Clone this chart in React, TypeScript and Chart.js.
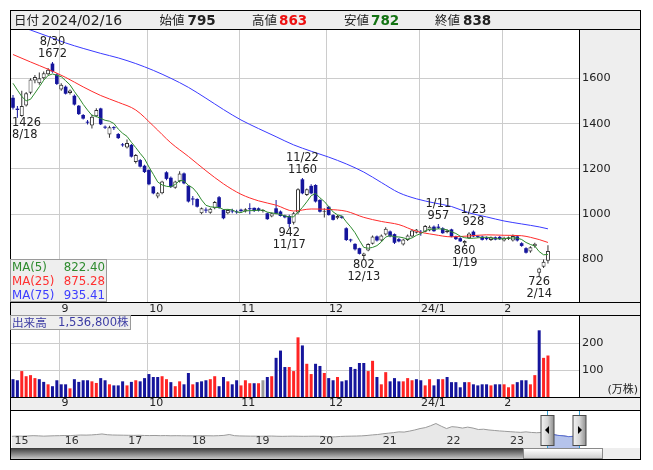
import React, { useEffect, useRef } from "react";
import { Chart, registerables } from "chart.js";

Chart.register(...registerables);

// ---------------- data ----------------
const openPrices = [
  1514, 1466, 1434, 1480, 1536, 1590, 1578, 1600, 1618, 1665,
  1617, 1550, 1563, 1535, 1523, 1479, 1438, 1408, 1392, 1432,
  1467, 1386, 1352, 1384, 1354, 1308, 1294, 1306, 1230, 1239,
  1214, 1195, 1122, 1078, 1092, 1185, 1161, 1117, 1144, 1180,
  1126, 1068, 1067, 1004, 1020, 1006, 1026, 1075, 1019, 1004,
  1016, 1012, 1020, 1012, 1026, 1028, 1026, 1014, 1004, 990,
  1026, 1012, 994, 992, 962, 1007, 1154, 1085, 1125, 1129,
  1063, 1011, 1033, 996, 982, 990, 938, 888, 869, 850,
  816, 840, 870, 902, 884, 910, 924, 912, 890, 866,
  886, 902, 918, 922, 923, 928, 945, 945, 938, 920,
  933, 901, 894, 872, 894, 923, 902, 901, 896, 886,
  898, 900, 884, 890, 884, 902, 872, 850, 835, 858,
  742, 768, 795,
];
const highPrices = [
  1526, 1478, 1545, 1540, 1600, 1615, 1626, 1630, 1645, 1672,
  1622, 1578, 1568, 1550, 1528, 1482, 1442, 1416, 1440, 1468,
  1470, 1392, 1390, 1388, 1358, 1314, 1330, 1310, 1266, 1244,
  1218, 1198, 1125, 1098, 1148, 1190, 1166, 1148, 1190, 1184,
  1128, 1080, 1070, 1030, 1030, 1028, 1058, 1080, 1022, 1022,
  1024, 1020, 1024, 1026, 1048, 1030, 1030, 1022, 1008, 1008,
  1063, 1016, 998, 998, 1010, 1115, 1160, 1114, 1132, 1132,
  1066, 1026, 1036, 1000, 996, 994, 942, 892, 872, 852,
  830, 872, 906, 906, 910, 942, 928, 915, 895, 892,
  910, 932, 935, 930, 952, 950, 950, 957, 942, 932,
  936, 905, 898, 885, 920, 928, 906, 905, 902, 902,
  902, 904, 900, 902, 910, 906, 876, 854, 858, 874,
  764, 800, 863,
];
const lowPrices = [
  1462, 1426, 1430, 1476, 1530, 1578, 1572, 1595, 1612, 1625,
  1570, 1545, 1528, 1528, 1480, 1438, 1418, 1396, 1378, 1428,
  1394, 1376, 1338, 1372, 1332, 1298, 1290, 1250, 1224, 1206,
  1182, 1128, 1088, 1070, 1088, 1150, 1116, 1112, 1140, 1132,
  1052, 1040, 1030, 1000, 1005, 1002, 1022, 1024, 978, 1000,
  1004, 1002, 1010, 1008, 1000, 1010, 1012, 1008, 975, 986,
  1000, 990, 982, 942, 955, 1000, 1088, 1080, 1088, 1052,
  1008, 985, 994, 972, 978, 980, 882, 876, 840, 822,
  802, 836, 866, 880, 880, 906, 898, 868, 876, 862,
  882, 898, 915, 905, 920, 925, 922, 935, 914, 916,
  898, 886, 878, 860, 890, 898, 895, 884, 885, 882,
  885, 886, 880, 886, 880, 880, 856, 826, 830, 852,
  726, 762, 782,
];
const closePrices = [
  1470, 1460, 1478, 1534, 1595, 1606, 1600, 1622, 1638, 1630,
  1575, 1572, 1532, 1546, 1484, 1442, 1422, 1404, 1430, 1460,
  1397, 1382, 1384, 1380, 1336, 1304, 1314, 1254, 1261, 1210,
  1186, 1132, 1092, 1092, 1144, 1156, 1120, 1144, 1180, 1136,
  1056, 1065, 1033, 1026, 1016, 1024, 1054, 1028, 982, 1019,
  1012, 1008, 1014, 1022, 1022, 1014, 1016, 1016, 978, 1004,
  1002, 992, 986, 957, 1004, 1110, 1092, 1110, 1092, 1056,
  1011, 1012, 996, 975, 992, 984, 886, 884, 845, 825,
  827, 868, 902, 884, 906, 936, 902, 874, 880, 888,
  906, 928, 932, 918, 948, 945, 925, 940, 916, 928,
  901, 890, 880, 882, 915, 902, 900, 887, 890, 898,
  888, 890, 896, 898, 904, 884, 860, 830, 854, 870,
  760, 790, 838,
];
// closes of the 4 sessions before the first candle (read from the MA(5) line start)
const priorCloses = [1610, 1620, 1629, 1561];

// volume in 万株
const volumes = [
  66, 62, 96, 77, 81, 70, 66, 56, 47, 40,
  62, 47, 47, 32, 66, 56, 62, 62, 58, 52,
  70, 62, 47, 43, 43, 58, 43, 56, 62, 58,
  70, 85, 74, 74, 77, 66, 55, 40, 58, 47,
  89, 47, 55, 58, 62, 66, 77, 40, 74, 58,
  47, 62, 43, 62, 51, 51, 51, 62, 74, 77,
  145, 172, 111, 111, 96, 221, 191, 123, 85, 123,
  115, 89, 70, 62, 74, 58, 62, 111, 104, 126,
  126, 96, 134, 74, 47, 92, 58, 70, 58, 58,
  70, 62, 66, 62, 43, 66, 43, 66, 66, 74,
  55, 55, 36, 55, 55, 47, 43, 47, 47, 43,
  47, 47, 47, 36, 47, 55, 62, 62, 47, 81,
  247, 145, 153.68,
];
// volume bar colour per session: u = up (red), d = down (blue), e = unchanged (gray)
const volDirRows = [
  "dduuuuddud", "dddudddduu", "ddudddudud", "dddduuduud", "duddduuddu",
  "dduuuduedu", "ddduuuduud", "dudduddddd", "duuduudddu", "uudduuddud",
  "dddduddddu", "dduuuddduu", "duu",
];

const ma25Points = [
  [0, 1705], [4, 1672], [8, 1640], [12, 1604], [16, 1562], [20, 1524], [24, 1494],
  [28, 1460], [32, 1390], [36, 1315], [40, 1255], [44, 1192], [48, 1134], [52, 1088],
  [56, 1059], [60, 1040], [64, 1014], [68, 1023], [72, 1021], [76, 1013], [80, 986],
  [84, 968], [88, 954], [92, 925], [96, 910], [100, 900], [104, 904], [108, 909],
  [112, 907], [116, 905], [118, 898], [120, 888], [122, 875.28],
];
const ma75Points = [
  [0, 1840], [4, 1813], [8, 1785], [12, 1756], [16, 1732], [20, 1710], [24, 1690],
  [28, 1665], [32, 1635], [36, 1600], [40, 1560], [44, 1512], [48, 1462], [52, 1416],
  [56, 1378], [60, 1342], [64, 1306], [68, 1278], [72, 1252], [76, 1222], [80, 1186],
  [84, 1140], [88, 1095], [92, 1068], [96, 1050], [100, 1034], [104, 1006], [108, 988],
  [112, 970], [116, 957], [120, 944], [122, 935.41],
];

const lastDate = "2024/02/16";
const monthLabels = ["9", "10", "11", "12", "24/1", "2"];
const monthStartIdx = [11, 31, 52, 72, 93, 112];
const priceTicks = [800, 1000, 1200, 1400, 1600];
const volTicks = [100, 200];

const highMarkIdx = [9, 66, 97, 105];
const highMarkDates = ["8/30", "11/22", "1/11", "1/23"];
const lowMarkIdx = [1, 63, 80, 103, 120];
const lowMarkDates = ["8/18", "11/17", "12/13", "1/19", "2/14"];

// navigator: monthly values, Mar 2015 .. Feb 2024 (month index from Jan 2015, mid-month)
const navStartMonth = 2.5;
const navValues = [
  1230, 1260, 1250, 1270, 1300, 1280, 1250, 1270, 1290, 1300,
  1320, 1310, 1340, 1370, 1360, 1380, 1420, 1480, 1400, 1370, 1360, 1350,
  1340, 1330, 1340, 1320, 1310, 1320, 1300, 1310, 1290, 1300, 1290, 1280,
  1280, 1290, 1300, 1290, 1280, 1300, 1330, 1420, 1300, 1270, 1260, 1250,
  1250, 1240, 1250, 1260, 1240, 1230, 1240, 1250, 1240, 1230, 1240, 1250,
  1240, 1220, 1150, 1180, 1220, 1240, 1250, 1260, 1280, 1320, 1380, 1420,
  1500, 1560, 1620, 1700, 1680, 1780, 1900, 2050, 2150, 2350, 2580, 2300,
  2050, 2250, 2200, 2100, 2200, 2100, 1950, 1980, 1900, 1850, 1800, 1760,
  1720, 1680, 1650, 1700, 1640, 1610, 1640, 1600, 1450, 1330, 1290, 1200,
  1230, 1150,
];
const navYearLabels = ["15", "16", "17", "18", "19", "20", "21", "22", "23"];
const windowStartMonth = 103.5;
const windowEndMonth = 109.5;

// ---------------- styling ----------------
const FONT = '"DejaVu Sans", "Noto Sans CJK JP", sans-serif';
const CJK = '"Noto Sans CJK JP", "DejaVu Sans", sans-serif';
const BLUE = "#15159c";
const RED = "#ff2424";

const abs = (l: number, t: number, w: number, h: number, extra: any = {}) => ({
  position: "absolute" as const,
  left: l,
  top: t,
  width: w,
  height: h,
  ...extra,
});

export default function App() {
  const priceRef = useRef<HTMLCanvasElement>(null);
  const volRef = useRef<HTMLCanvasElement>(null);
  const navRef = useRef<HTMLCanvasElement>(null);

  const N = closePrices.length;
  const allCloses = priorCloses.concat(closePrices);
  const ma5Last = allCloses.slice(-5).reduce((a, b) => a + b, 0) / 5;
  const ma25Last = ma25Points[ma25Points.length - 1][1];
  const ma75Last = ma75Points[ma75Points.length - 1][1];
  const volLastShares = Math.round(volumes[N - 1] * 10000).toLocaleString("en-US");

  useEffect(() => {
    const charts: Chart[] = [];
    const xMin = -0.456;
    const xMax = 129.08;
    const monthTicks = monthStartIdx.map((i) => i - 0.4);
    const volDir = volDirRows.join("");

    const isUp = closePrices.map((c, i) => c >= openPrices[i]);
    const wickData = closePrices.map((_, i) => ({ x: i, y: [lowPrices[i], highPrices[i]] }));
    const wickColors = isUp.map((u) => (u ? "#333333" : BLUE));
    const upBodies: any[] = [];
    const downBodies: any[] = [];
    closePrices.forEach((c, i) => {
      const d = { x: i, y: [openPrices[i], c] };
      if (isUp[i]) upBodies.push(d);
      else downBodies.push(d);
    });
    const ma5 = closePrices.map((_, i) => {
      let s = 0;
      for (let k = 0; k < 5; k++) s += allCloses[i + k];
      return { x: i, y: s / 5 };
    });

    const xAxis = () => ({
      type: "linear",
      min: xMin,
      max: xMax,
      offset: false,
      grid: { color: "#cccccc", drawTicks: false, offset: false, lineWidth: 1 },
      border: { display: false },
      ticks: { display: false },
      afterBuildTicks: (s: any) => {
        s.ticks = monthTicks.map((v) => ({ value: v }));
      },
      afterFit: (s: any) => {
        s.height = 13;
        s.paddingLeft = 0;
        s.paddingRight = 0;
      },
    });
    const yAxis = (min: number, max: number, ticks: number[]) => ({
      type: "linear",
      position: "right",
      min,
      max,
      grid: { color: "#cccccc", drawTicks: false },
      border: { display: false },
      ticks: {
        color: "#222222",
        font: { family: FONT, size: 11.3 },
        padding: 3,
        callback: (v: any) => String(v),
      },
      afterBuildTicks: (s: any) => {
        s.ticks = ticks.map((v) => ({ value: v }));
      },
      afterFit: (s: any) => {
        s.width = 61;
        s.paddingTop = 0;
        s.paddingBottom = 0;
      },
    });
    const barCommon = {
      grouped: false,
      categoryPercentage: 1,
      barPercentage: 1,
      inflateAmount: 0,
      borderSkipped: false,
    };

    const monthLabelPlugin = (dy: number) => ({
      id: "monthLabels",
      afterDraw(chart: any) {
        const { ctx, chartArea, scales } = chart;
        ctx.save();
        ctx.fillStyle = "#222222";
        ctx.textBaseline = "middle";
        ctx.textAlign = "left";
        ctx.font = `11px ${FONT}`;
        monthStartIdx.forEach((i, k) => {
          ctx.fillText(monthLabels[k], scales.x.getPixelForValue(i - 0.4) + 2, chartArea.bottom + dy);
        });
        ctx.restore();
      },
    });

    const pricePlugin = {
      id: "priceMarks",
      afterDatasetsDraw(chart: any) {
        const { ctx, chartArea, scales } = chart;
        const xs = scales.x;
        const ys = scales.y;
        ctx.save();
        ctx.fillStyle = "#222222";
        ctx.textBaseline = "middle";
        ctx.textAlign = "left";
        ctx.font = `11.4px ${FONT}`;
        const put = (t: string, cx: number, cy: number) => {
          const w = ctx.measureText(t).width;
          let l = cx - w / 2;
          l = Math.max(chartArea.left + 1, Math.min(l, chartArea.right - 1 - w));
          ctx.fillText(t, l, cy);
        };
        highMarkIdx.forEach((i, k) => {
          const px = xs.getPixelForValue(i);
          const py = ys.getPixelForValue(highPrices[i]);
          put(String(highPrices[i]), px, py - 8);
          put(highMarkDates[k], px, py - 20);
        });
        lowMarkIdx.forEach((i, k) => {
          const px = xs.getPixelForValue(i);
          const py = ys.getPixelForValue(lowPrices[i]);
          put(String(lowPrices[i]), px, py + 5.5);
          put(lowMarkDates[k], px, py + 17.5);
        });
        ctx.restore();
      },
    };

    if (priceRef.current) {
      charts.push(
        new Chart(priceRef.current, {
          type: "bar",
          data: {
            datasets: [
              {
                type: "line",
                data: ma5,
                borderColor: "#2e8b2e",
                borderWidth: 1,
                pointRadius: 0,
                order: 1,
              } as any,
              {
                type: "line",
                data: ma25Points.map(([x, y]) => ({ x, y })),
                borderColor: "#ff2b2b",
                borderWidth: 1,
                pointRadius: 0,
                cubicInterpolationMode: "monotone",
                order: 1,
              } as any,
              {
                type: "line",
                data: ma75Points.map(([x, y]) => ({ x, y })),
                borderColor: "#3a3aff",
                borderWidth: 1,
                pointRadius: 0,
                cubicInterpolationMode: "monotone",
                order: 1,
              } as any,
              {
                type: "bar",
                data: upBodies,
                backgroundColor: "#ffffff",
                borderColor: "#333333",
                borderWidth: 1,
                maxBarThickness: 4,
                minBarLength: 1,
                order: 2,
                ...barCommon,
              } as any,
              {
                type: "bar",
                data: downBodies,
                backgroundColor: BLUE,
                borderWidth: 0,
                maxBarThickness: 3.6,
                minBarLength: 1,
                order: 2,
                ...barCommon,
              } as any,
              {
                type: "bar",
                data: wickData,
                backgroundColor: wickColors,
                borderWidth: 0,
                maxBarThickness: 1,
                minBarLength: 1,
                order: 3,
                ...barCommon,
              } as any,
            ],
          },
          options: {
            animation: false,
            responsive: false,
            devicePixelRatio: 1,
            events: [],
            layout: { padding: 0 },
            plugins: { legend: { display: false }, tooltip: { enabled: false } },
            scales: {
              x: xAxis() as any,
              y: yAxis(612.4, 1813.2, priceTicks) as any,
            },
          },
          plugins: [pricePlugin, monthLabelPlugin(7)],
        })
      );
    }

    if (volRef.current) {
      const volColors = volumes.map((_, i) =>
        volDir[i] === "u" ? RED : volDir[i] === "d" ? BLUE : "#9a9a9a"
      );
      const unitPlugin = {
        id: "volUnit",
        afterDraw(chart: any) {
          const { ctx, chartArea } = chart;
          ctx.save();
          ctx.fillStyle = "#222222";
          ctx.textBaseline = "middle";
          ctx.textAlign = "right";
          ctx.font = `11px ${FONT}`;
          ctx.fillText("(万株)", chartArea.right + 59, chartArea.bottom - 6.5);
          ctx.restore();
        },
      };
      charts.push(
        new Chart(volRef.current, {
          type: "bar",
          data: {
            datasets: [
              {
                data: volumes.map((v, i) => ({ x: i, y: v })),
                backgroundColor: volColors,
                borderWidth: 0,
                maxBarThickness: 3,
                ...barCommon,
              } as any,
            ],
          },
          options: {
            animation: false,
            responsive: false,
            devicePixelRatio: 1,
            events: [],
            layout: { padding: 0 },
            plugins: { legend: { display: false }, tooltip: { enabled: false } },
            scales: {
              x: xAxis() as any,
              y: yAxis(0, 300, volTicks) as any,
            },
          },
          plugins: [monthLabelPlugin(6.5), unitPlugin],
        })
      );
    }

    if (navRef.current) {
      const navPts = navValues.map((v, k) => ({ x: navStartMonth + k, y: v }));
      const selPts = navPts.filter((p) => p.x >= windowStartMonth && p.x <= windowEndMonth);
      const navPlugin = {
        id: "navDecor",
        afterDatasetsDraw(chart: any) {
          const { ctx, chartArea, scales } = chart;
          const xs = scales.x;
          ctx.save();
          ctx.fillStyle = "#333333";
          ctx.textBaseline = "middle";
          ctx.textAlign = "left";
          ctx.font = `11px ${FONT}`;
          navYearLabels.forEach((lab, k) => {
            const m = Math.max(12 * k, navStartMonth);
            ctx.fillText(lab, xs.getPixelForValue(m) + 2.5, 29.7);
          });
          const handles = [
            { m: windowStartMonth, dir: -1 },
            { m: windowEndMonth, dir: 1 },
          ];
          handles.forEach(({ m, dir }) => {
            const cx = Math.round(xs.getPixelForValue(m)) + 0.5;
            ctx.strokeStyle = "#39a3d6";
            ctx.lineWidth = 1;
            ctx.beginPath();
            ctx.moveTo(cx, chartArea.top);
            ctx.lineTo(cx, chartArea.bottom);
            ctx.stroke();
            const w = 13;
            const top = 4;
            const h = 30;
            const g = ctx.createLinearGradient(cx - w / 2, 0, cx + w / 2, 0);
            g.addColorStop(0, "#f4f4f4");
            g.addColorStop(0.5, "#d6d6d6");
            g.addColorStop(1, "#8e8e8e");
            ctx.fillStyle = g;
            ctx.fillRect(cx - w / 2, top, w, h);
            ctx.strokeStyle = "#4a4a4a";
            ctx.strokeRect(cx - w / 2, top + 0.5, w, h);
            ctx.fillStyle = "#000000";
            ctx.beginPath();
            const my = top + h / 2;
            ctx.moveTo(cx + dir * 2.5, my);
            ctx.lineTo(cx - dir * 1.5, my - 4);
            ctx.lineTo(cx - dir * 1.5, my + 4);
            ctx.closePath();
            ctx.fill();
          });
          ctx.restore();
        },
      };
      charts.push(
        new Chart(navRef.current, {
          type: "line",
          data: {
            datasets: [
              {
                data: navPts,
                borderColor: "#9a9a9a",
                borderWidth: 1,
                pointRadius: 0,
                fill: "origin",
                backgroundColor: "#e8e8e8",
                order: 2,
              } as any,
              {
                data: selPts,
                borderColor: "#5a6fd8",
                borderWidth: 1,
                pointRadius: 0,
                fill: "origin",
                backgroundColor: "rgba(120,150,240,0.45)",
                order: 1,
              } as any,
            ],
          },
          options: {
            animation: false,
            responsive: false,
            devicePixelRatio: 1,
            events: [],
            layout: { padding: 0 },
            plugins: { legend: { display: false }, tooltip: { enabled: false } },
            scales: {
              x: { type: "linear", display: false, min: 2.33, max: 121 },
              y: { type: "linear", display: false, min: 0, max: 3900 },
            },
          },
          plugins: [navPlugin],
        })
      );
    }

    return () => {
      charts.forEach((c) => c.destroy());
    };
  }, []);

  const hdr = (left: number, text: string, size: number, extra: any = {}) => (
    <span
      style={{
        position: "absolute",
        left,
        top: 11,
        lineHeight: "18px",
        fontSize: size,
        color: "#222222",
        whiteSpace: "nowrap",
        ...extra,
      }}
    >
      {text}
    </span>
  );

  const legendRow = (label: string, value: string, color: string) => (
    <div style={{ display: "flex", justifyContent: "space-between", color, height: 14 }}>
      <span>{label}</span>
      <span>{value}</span>
    </div>
  );

  return (
    <div
      style={{
        position: "absolute",
        left: 0,
        top: 0,
        width: 653,
        height: 470,
        background: "#ffffff",
        fontFamily: FONT,
        overflow: "hidden",
      }}
    >
      {/* backgrounds */}
      <div style={abs(11, 11, 629, 18, { background: "#eeeeee" })} />
      <div style={abs(580, 30, 60, 272, { background: "#eeeeee" })} />
      <div style={abs(11, 303, 629, 12, { background: "#eeeeee" })} />
      <div style={abs(580, 316, 60, 81, { background: "#eeeeee" })} />
      <div style={abs(11, 398, 629, 12, { background: "#eeeeee" })} />

      {/* charts */}
      <canvas ref={priceRef} width={629} height={285} style={abs(11, 30, 629, 285)} />
      <canvas ref={volRef} width={629} height={94} style={abs(11, 316, 629, 94)} />
      <canvas ref={navRef} width={629} height={37} style={abs(11, 411, 629, 37)} />

      {/* scrollbar */}
      <div style={abs(11, 448, 512, 11, { background: "linear-gradient(#3a3a3a, #c8c8c8)" })} />
      <div
        style={abs(523, 448, 80, 11, {
          background: "linear-gradient(#ffffff, #d0d0d0)",
          border: "1px solid #8a8a8a",
          boxSizing: "border-box",
        })}
      />
      <div style={abs(603, 448, 37, 11, { background: "#eeeeee" })} />

      {/* frame lines */}
      <div style={abs(10, 10, 631, 450, { border: "1px solid #000", boxSizing: "border-box" })} />
      <div style={abs(10, 29, 631, 1, { background: "#000" })} />
      <div style={abs(10, 302, 631, 1, { background: "#000" })} />
      <div style={abs(10, 315, 631, 1, { background: "#000" })} />
      <div style={abs(10, 397, 631, 1, { background: "#000" })} />
      <div style={abs(10, 410, 631, 1, { background: "#000" })} />
      <div style={abs(579, 29, 1, 274, { background: "#000" })} />
      <div style={abs(579, 315, 1, 83, { background: "#000" })} />

      {/* header */}
      {hdr(14, "日付", 12.5, { fontFamily: CJK })}
      {hdr(41.5, lastDate, 14)}
      {hdr(159.5, "始値", 12.5, { fontFamily: CJK })}
      {hdr(187.5, String(openPrices[N - 1]), 13.5, { fontWeight: "bold" })}
      {hdr(252, "高値", 12.5, { fontFamily: CJK })}
      {hdr(279, String(highPrices[N - 1]), 13.5, { fontWeight: "bold", color: "#ee1111" })}
      {hdr(344, "安値", 12.5, { fontFamily: CJK })}
      {hdr(371, String(lowPrices[N - 1]), 13.5, { fontWeight: "bold", color: "#137313" })}
      {hdr(435, "終値", 12.5, { fontFamily: CJK })}
      {hdr(463, String(closePrices[N - 1]), 13.5, { fontWeight: "bold" })}

      {/* MA legend */}
      <div
        style={abs(10, 259, 97, 43, {
          background: "#eeeeee",
          border: "1px solid #9a9a9a",
          boxSizing: "border-box",
          fontSize: 11.8,
          lineHeight: "14px",
          padding: "0 1px",
        })}
      >
        {legendRow("MA(5)", ma5Last.toFixed(2), "#2e8b2e")}
        {legendRow("MA(25)", ma25Last.toFixed(2), "#ff3030")}
        {legendRow("MA(75)", ma75Last.toFixed(2), "#3c3cff")}
      </div>

      {/* volume label */}
      <div
        style={abs(10, 315, 121, 15, {
          background: "#eeeeee",
          border: "1px solid #9a9a9a",
          boxSizing: "border-box",
        })}
      />
      <span
        style={{
          position: "absolute",
          left: 12,
          top: 315,
          lineHeight: "15px",
          fontSize: 11.6,
          color: "#3b3ba3",
          fontFamily: CJK,
          whiteSpace: "nowrap",
        }}
      >
        出来高
      </span>
      <span
        style={{
          position: "absolute",
          left: 58,
          top: 315,
          lineHeight: "15px",
          fontSize: 11.6,
          color: "#3b3ba3",
          whiteSpace: "nowrap",
        }}
      >
        {volLastShares}株
      </span>
    </div>
  );
}
